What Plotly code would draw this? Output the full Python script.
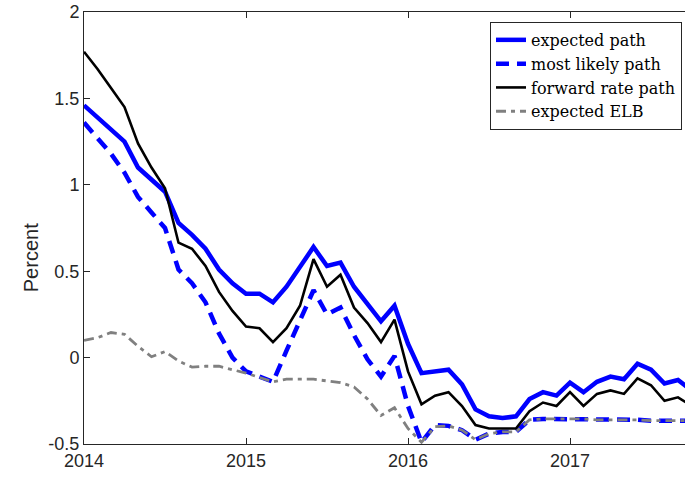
import plotly.graph_objects as go

start_year = 2014
n_months = 46
dates = [start_year + i / 12 for i in range(n_months)]

expected_path = [1.46, 1.39, 1.32, 1.25, 1.10, 1.03, 0.96, 0.78, 0.71, 0.63,
                 0.51, 0.43, 0.37, 0.37, 0.32, 0.41, 0.52, 0.64, 0.53, 0.55,
                 0.41, 0.31, 0.21, 0.30, 0.08, -0.09, -0.08, -0.07, -0.155, -0.30,
                 -0.34, -0.35, -0.34, -0.24, -0.20, -0.22, -0.145, -0.20, -0.14, -0.11,
                 -0.125, -0.035, -0.07, -0.15, -0.13, -0.19]

most_likely_path = [1.36, 1.27, 1.18, 1.07, 0.93, 0.84, 0.75, 0.51, 0.43, 0.32,
                    0.14, 0.00, -0.08, -0.11, -0.14, 0.04, 0.22, 0.39, 0.25, 0.29,
                    0.13, -0.01, -0.11, 0.01, -0.28, -0.49, -0.39, -0.395, -0.42, -0.475,
                    -0.44, -0.43, -0.43, -0.36, -0.355, -0.355, -0.355, -0.355, -0.36, -0.36,
                    -0.36, -0.36, -0.365, -0.365, -0.365, -0.365]

forward_rate_path = [1.77, 1.67, 1.56, 1.45, 1.24, 1.10, 0.98, 0.665, 0.63, 0.53,
                     0.38, 0.27, 0.18, 0.17, 0.09, 0.17, 0.30, 0.57, 0.41, 0.48,
                     0.29, 0.20, 0.09, 0.22, -0.08, -0.27, -0.22, -0.20, -0.28, -0.39,
                     -0.41, -0.41, -0.41, -0.31, -0.26, -0.28, -0.20, -0.28, -0.21, -0.19,
                     -0.21, -0.12, -0.16, -0.25, -0.23, -0.28]

expected_elb = [0.10, 0.115, 0.145, 0.135, 0.065, 0.005, 0.035, -0.02, -0.055, -0.05,
                -0.05, -0.07, -0.09, -0.115, -0.14, -0.125, -0.125, -0.125, -0.135, -0.145,
                -0.17, -0.24, -0.335, -0.29, -0.41, -0.49, -0.40, -0.395, -0.42, -0.475,
                -0.44, -0.43, -0.43, -0.36, -0.355, -0.355, -0.355, -0.355, -0.36, -0.36,
                -0.36, -0.36, -0.365, -0.365, -0.365, -0.365]

x_ticks = [2014, 2015, 2016, 2017]
x_tick_labels = ["2014", "2015", "2016", "2017"]
y_ticks = [-0.5, 0, 0.5, 1, 1.5, 2]
y_tick_labels = ["-0.5", "0", "0.5", "1", "1.5", "2"]

fig = go.Figure()
fig.add_trace(go.Scatter(x=dates, y=expected_path, mode="lines", name="expected path",
                         line=dict(color="#0000ff", width=4.5)))
fig.add_trace(go.Scatter(x=dates, y=most_likely_path, mode="lines", name="most likely path",
                         line=dict(color="#0000ff", width=4.5, dash="13px,8px")))
fig.add_trace(go.Scatter(x=dates, y=forward_rate_path, mode="lines", name="forward rate path",
                         line=dict(color="#000000", width=2.6)))
fig.add_trace(go.Scatter(x=dates, y=expected_elb, mode="lines", name="expected ELB",
                         line=dict(color="#808080", width=2.8, dash="10px,5px,4px,5px")))

axis_common = dict(showgrid=False, zeroline=False, showline=True, linecolor="#262626",
                   linewidth=1, ticks="inside", ticklen=6, tickcolor="#262626",
                   tickfont=dict(family="Liberation Sans, Arial", size=18, color="#262626"))

fig.update_layout(
    width=685, height=481,
    margin=dict(l=84, r=0, t=12, b=37),
    plot_bgcolor="white", paper_bgcolor="white",
    xaxis=dict(range=[2014, 2014 + 601 / 162], tickvals=x_ticks, ticktext=x_tick_labels,
               mirror="ticks", **axis_common),
    yaxis=dict(range=[-0.5, 2], tickvals=y_ticks, ticktext=y_tick_labels,
               mirror=False, **axis_common),
    legend=dict(x=0.995, y=0.977, xanchor="right", yanchor="top",
                bgcolor="white", bordercolor="#262626", borderwidth=1,
                font=dict(family="DejaVu Serif, Liberation Serif", size=16, color="#000000"),
                itemwidth=30, tracegroupgap=0),
    showlegend=True,
    annotations=[dict(text="Percent", xref="paper", yref="paper", x=0, y=0.43,
                      xshift=-66, textangle=-90, showarrow=False,
                      font=dict(family="Liberation Sans, Arial", size=20, color="#262626"))],
)

fig.write_html("out.html", config={"displayModeBar": False},
               post_script="document.body.style.margin='0';")
